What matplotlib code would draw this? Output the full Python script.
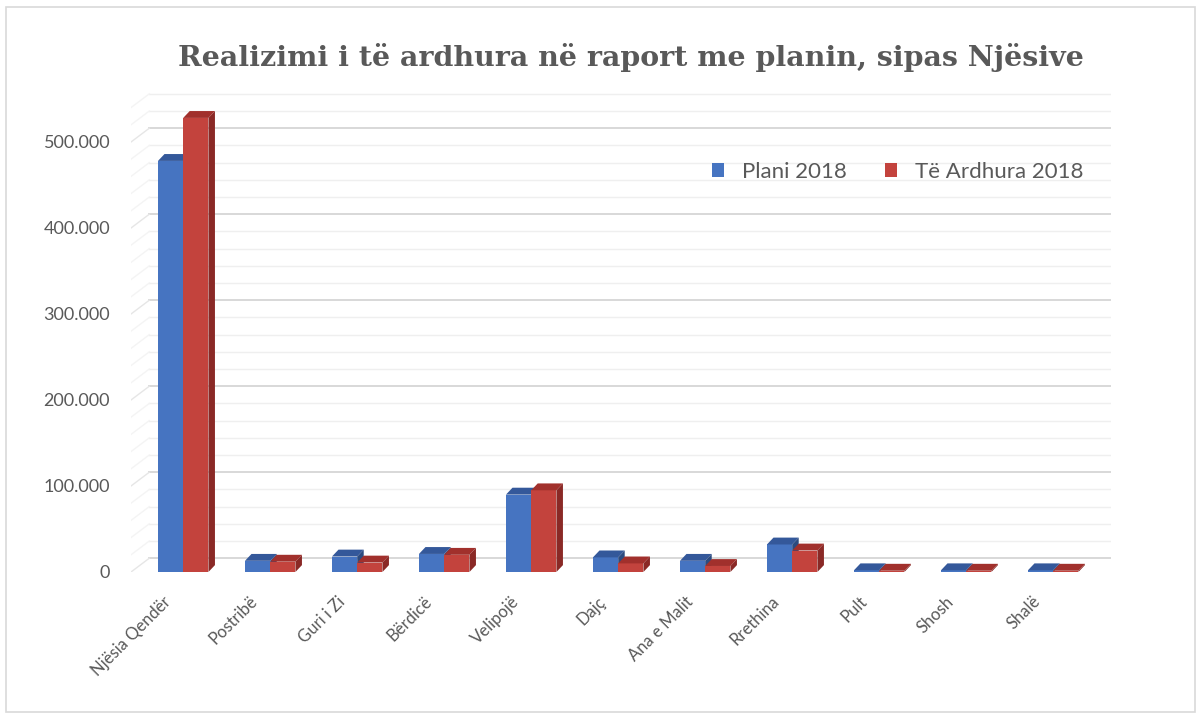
import numpy as np
import matplotlib.pyplot as plt
from matplotlib.patches import Polygon, Rectangle, Patch
from matplotlib.transforms import ScaledTranslation, blended_transform_factory

# ---- data ----
njesite = ['Njësia Qendër', 'Postribë', 'Guri i Zi', 'Bërdicë', 'Velipojë', 'Dajç',
           'Ana e Malit', 'Rrethina', 'Pult', 'Shosh', 'Shalë']
plani_2018 = [478000, 13000, 18000, 21000, 90000, 17000, 13000, 32000, 2000, 2000, 2000]
ardhura_2018 = [528000, 12000, 11000, 20000, 95000, 10000, 7000, 25000, 1500, 1500, 1500]
yticks = [0, 100000, 200000, 300000, 400000, 500000]
grid_vals = np.arange(0, 540001, 20000)

GRAY = '#595959'
blue = ('#4674C1', '#34589A', '#2C4B80')   # front, top, side
red = ('#C3433D', '#A1302C', '#8A2926')

fig = plt.figure(figsize=(12.04, 7.16), dpi=100)
ax = fig.add_axes([131 / 1204, 144 / 716, 979.6 / 1204, 481.6 / 716])
ax.set_xlim(-0.6, 10.66)
ax.set_ylim(0, 560000)
for s in ax.spines.values():
    s.set_visible(False)

# back wall (gridlines shifted by the depth) and left wall diagonals
wdx, wdy = 0.21, 16000
for v in grid_vals:
    major = v % 100000 == 0
    c = '#d6d6d6' if major else '#efefef'
    ax.plot([-0.6 + wdx, 10.66], [v + wdy, v + wdy], color=c, lw=1.3 if major else 1.0, zorder=1)
    ax.plot([-0.6, -0.6 + wdx], [v, v + wdy], color='#e6e6e6' if major else '#f4f4f4', lw=1.0, zorder=1)


def bar3d(x0, w, h, cols, dx=0.075, dy=8000):
    front, top, side = cols
    ax.add_patch(Rectangle((x0, 0), w, h, facecolor=front, edgecolor='none', zorder=3))
    ax.add_patch(Polygon([(x0, h), (x0 + w, h), (x0 + w + dx, h + dy), (x0 + dx, h + dy)],
                         facecolor=top, edgecolor='none', zorder=3))
    ax.add_patch(Polygon([(x0 + w, 0), (x0 + w + dx, dy), (x0 + w + dx, h + dy), (x0 + w, h)],
                         facecolor=side, edgecolor='none', zorder=3))


bw = 0.29
for i in range(len(njesite)):
    bar3d(i - bw, bw, plani_2018[i], blue)
    bar3d(i, bw, ardhura_2018[i], red)

ax.set_yticks(yticks)
ax.set_yticklabels([f'{v:,}'.replace(',', '.') for v in yticks], family='Lato',
                   fontsize=13, color=GRAY)
ax.tick_params(axis='y', length=0, pad=15)
ax.set_xticks([])

# rotated category labels
trans = blended_transform_factory(ax.transData, ax.transAxes) + \
    ScaledTranslation(-0.15, -0.27, fig.dpi_scale_trans)
for i, name in enumerate(njesite):
    ax.text(i, 0, name, transform=trans, rotation=45, ha='right', va='center',
            rotation_mode='anchor', family='Lato', fontsize=12, color=GRAY)

handles = [Patch(facecolor=blue[0], label='Plani 2018'),
           Patch(facecolor=red[0], label='Të Ardhura 2018')]
fig.legend(handles=handles, loc='center left', bbox_to_anchor=(701 / 1204, 1 - 172 / 716),
           ncol=2, frameon=False, borderpad=0, handlelength=0.55, handleheight=0.55,
           handletextpad=0.8, columnspacing=1.7, prop={'family': 'Lato', 'size': 16},
           labelcolor=GRAY)

fig.text(631 / 1204, 1 - 57 / 716, 'Realizimi i të ardhura në raport me planin, sipas Njësive',
         ha='center', va='center', family='DejaVu Serif', fontweight='bold', fontsize=20.5,
         color=GRAY)

fig.patches.append(Rectangle((6 / 1204, 4 / 716), 1189 / 1204, 705 / 716, transform=fig.transFigure,
                             fill=False, edgecolor='#d9d9d9', lw=1.2))

fig.savefig('out.png', dpi=100)
